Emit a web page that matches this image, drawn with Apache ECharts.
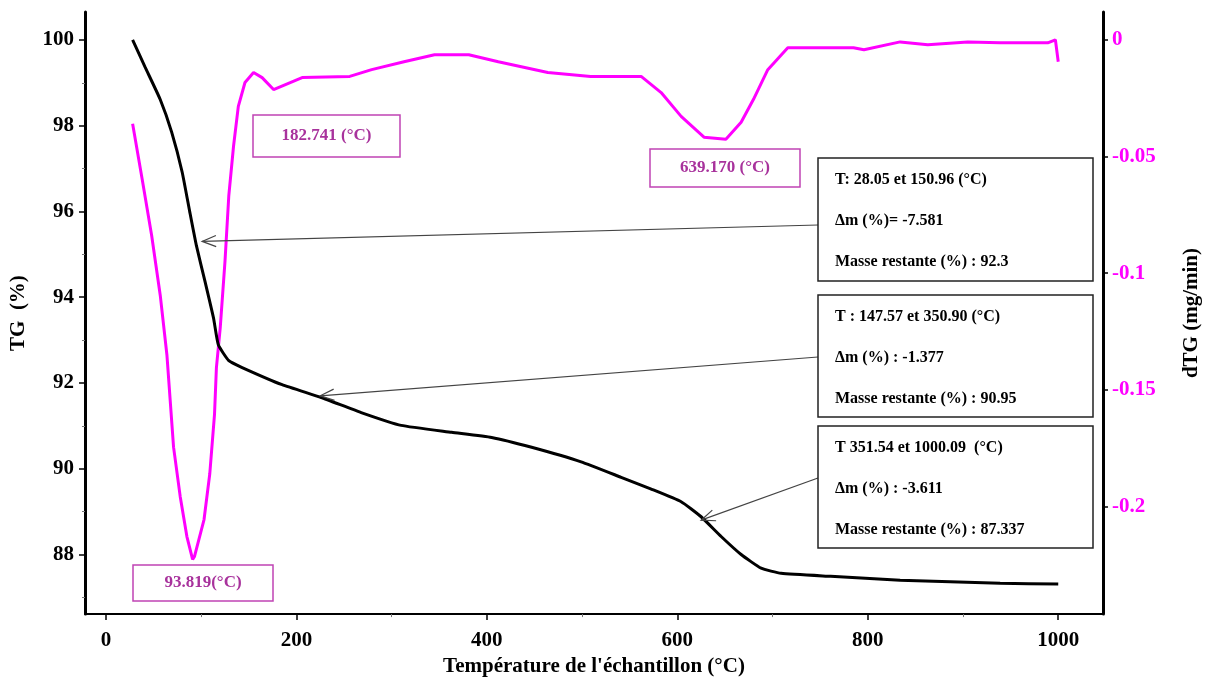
<!DOCTYPE html>
<html>
<head>
<meta charset="utf-8">
<script src="https://cdn.jsdelivr.net/npm/echarts@6/dist/echarts.min.js"></script>
<style>
  html, body { margin: 0; padding: 0; background: #fff; }
  #chart { width: 1210px; height: 682px; }
</style>
</head>
<body>
<div id="chart"></div>
<script>
// TG curve (mass %, left axis)
var tempTG = [28, 41, 57, 69, 80, 88, 95, 104, 113, 118, 129, 143, 185, 226, 268, 310, 363, 405, 447, 499, 541, 572, 604, 625, 646, 667, 688, 709, 761, 834, 939, 1000];
var massTG = [100, 99.37, 98.61, 97.85, 96.92, 95.99, 95.2, 94.37, 93.51, 92.89, 92.52, 92.36, 91.96, 91.66, 91.31, 91.01, 90.85, 90.73, 90.5, 90.16, 89.8, 89.53, 89.23, 88.88, 88.42, 88.0, 87.68, 87.56, 87.49, 87.4, 87.33, 87.31];

// dTG curve (mg/min, right axis)
var tempDTG = [28, 38, 48, 57, 64, 71, 78, 85, 91, 93, 103, 109, 114, 116, 120, 125, 129, 134, 139, 146, 155, 164, 176, 206, 256, 279, 313, 345, 381, 412, 464, 509, 562, 583, 604, 628, 651, 667, 680, 695, 716, 785, 796, 834, 863, 905, 939, 989, 997, 1000];
var dtg = [-0.036, -0.0596, -0.0838, -0.1094, -0.1349, -0.1745, -0.1957, -0.2128, -0.2226, -0.2213, -0.2055, -0.186, -0.1604, -0.1404, -0.1234, -0.0949, -0.0668, -0.0455, -0.0285, -0.0183, -0.014, -0.0162, -0.0213, -0.0162, -0.0157, -0.0128, -0.0094, -0.0064, -0.0064, -0.0094, -0.014, -0.0157, -0.0157, -0.0226, -0.0328, -0.0417, -0.0426, -0.0353, -0.0255, -0.0128, -0.0034, -0.0034, -0.0043, -0.0009, -0.0021, -0.0009, -0.0013, -0.0013, 0, -0.0094];

// tick labels
var xTicks = [0, 200, 400, 600, 800, 1000];
var xMinor = [100, 300, 500, 700, 900];
var tgTicks = [88, 90, 92, 94, 96, 98, 100];
var tgMinor = [87, 89, 91, 93, 95, 97, 99];
var dtgTicks = [0, -0.05, -0.1, -0.15, -0.2];

// peak labels and step summaries
var peakLabels = ['182.741 (°C)', '93.819(°C)', '639.170 (°C)'];
var steps = [
  ['T: 28.05 et 150.96 (°C)', 'Δm (%)= -7.581', 'Masse restante (%) : 92.3'],
  ['T : 147.57 et 350.90 (°C)', 'Δm (%) : -1.377', 'Masse restante (%) : 90.95'],
  ['T 351.54 et 1000.09  (°C)', 'Δm (%) : -3.611', 'Masse restante (%) : 87.337']
];
// points on the TG curve the arrows point at
var arrowTargets = [[101, 95.3], [225, 91.7], [625, 88.8]];

var FONT = 'Liberation Serif';

function zip(a, b) {
  return a.map(function (v, i) { return [v, b[i]]; });
}

var chart = echarts.init(document.getElementById('chart'));

var option = {
  animation: false,
  backgroundColor: '#fff',
  grid: { left: 83, right: 107, top: 12, bottom: 64 },
  xAxis: [
    {
      type: 'value', min: -22, max: 1047, position: 'bottom',
      name: "Température de l'échantillon (°C)",
      nameLocation: 'middle', nameGap: 36,
      nameTextStyle: { fontFamily: FONT, fontWeight: 'bold', fontSize: 21, color: '#000' },
      axisLine: { show: true, onZero: false, lineStyle: { color: '#000', width: 2 } },
      axisTick: { show: true, customValues: xTicks, length: 6, lineStyle: { color: '#000', width: 1.5 } },
      axisLabel: {
        customValues: xTicks, margin: 16, fontFamily: FONT, fontWeight: 'bold', fontSize: 21, color: '#000',
        formatter: function (v) { return String(v); }
      },
      splitLine: { show: false }
    },
    {
      type: 'value', min: -22, max: 1047, position: 'bottom',
      axisLine: { show: false, onZero: false },
      axisTick: { show: true, customValues: xMinor, length: 3, lineStyle: { color: '#777', width: 1 } },
      axisLabel: { show: false },
      splitLine: { show: false }
    }
  ],
  yAxis: [
    {
      type: 'value', min: 86.61, max: 100.65, position: 'left',
      name: 'TG  (%)', nameLocation: 'middle', nameGap: 56,
      nameTextStyle: { fontFamily: FONT, fontWeight: 'bold', fontSize: 21, color: '#000' },
      axisLine: { show: true, onZero: false, lineStyle: { color: '#000', width: 3 } },
      axisTick: { show: true, customValues: tgTicks, length: 6, lineStyle: { color: '#000', width: 1.5 } },
      axisLabel: { customValues: tgTicks, margin: 11, fontFamily: FONT, fontWeight: 'bold', fontSize: 21, color: '#000' },
      splitLine: { show: false }
    },
    {
      type: 'value', min: -0.246, max: 0.0119, position: 'right',
      name: 'dTG (mg/min)', nameLocation: 'middle', nameGap: 78,
      nameTextStyle: { fontFamily: FONT, fontWeight: 'bold', fontSize: 21, color: '#000' },
      axisLine: { show: true, onZero: false, lineStyle: { color: '#000', width: 3 } },
      axisTick: { show: true, customValues: dtgTicks, length: 5, lineStyle: { color: '#000', width: 1.5 } },
      axisLabel: {
        customValues: dtgTicks, margin: 9, fontFamily: FONT, fontWeight: 'bold', fontSize: 21, color: '#ff00ff',
        formatter: function (v) { return String(Math.round(v * 1000) / 1000); }
      },
      splitLine: { show: false }
    },
    {
      type: 'value', min: 86.61, max: 100.65, position: 'left',
      axisLine: { show: false, onZero: false },
      axisTick: { show: true, customValues: tgMinor, length: 3, lineStyle: { color: '#777', width: 1 } },
      axisLabel: { show: false },
      splitLine: { show: false }
    }
  ],
  series: [
    {
      name: 'TG', type: 'line', xAxisIndex: 0, yAxisIndex: 0,
      data: zip(tempTG, massTG), showSymbol: false, smooth: 0.15,
      lineStyle: { color: '#000', width: 3 }, z: 3
    },
    {
      name: 'dTG', type: 'line', xAxisIndex: 0, yAxisIndex: 1,
      data: zip(tempDTG, dtg), showSymbol: false, smooth: false,
      lineStyle: { color: '#ff00ff', width: 3 }, z: 2
    }
  ]
};

chart.setOption(option);

// annotation boxes and arrows
var graphics = [];

function peakBox(x, y, w, h, text) {
  graphics.push({
    type: 'rect', shape: { x: x, y: y, width: w, height: h },
    style: { fill: '#fff', stroke: '#c043b4', lineWidth: 1.5 }, z: 10
  });
  graphics.push({
    type: 'text', x: x + w / 2, y: y + h / 2, z: 11,
    style: { text: text, fill: '#a8329c', font: 'bold 17px "' + FONT + '"', align: 'center', verticalAlign: 'middle' }
  });
}
peakBox(253, 115, 147, 42, peakLabels[0]);
peakBox(133, 565, 140, 36, peakLabels[1]);
peakBox(650, 149, 150, 38, peakLabels[2]);

var boxes = [
  { y: 158, h: 123, ay: 225 },
  { y: 295, h: 122, ay: 357 },
  { y: 426, h: 122, ay: 478 }
];
boxes.forEach(function (b, i) {
  graphics.push({
    type: 'rect', shape: { x: 818, y: b.y, width: 275, height: b.h },
    style: { fill: '#fff', stroke: '#222', lineWidth: 1.5 }, z: 10
  });
  steps[i].forEach(function (line, j) {
    graphics.push({
      type: 'text', x: 835, y: b.y + 22 + j * 41, z: 11,
      style: { text: line, fill: '#000', font: 'bold 16px "' + FONT + '"', align: 'left', verticalAlign: 'middle' }
    });
  });
  var tip = chart.convertToPixel({ xAxisIndex: 0, yAxisIndex: 0 }, arrowTargets[i]);
  var sx = 818, sy = b.ay;
  var dx = sx - tip[0], dy = sy - tip[1];
  var len = Math.sqrt(dx * dx + dy * dy);
  dx /= len; dy /= len;
  var arm = 15, ang = 22 * Math.PI / 180;
  function rot(a) {
    return [tip[0] + arm * (dx * Math.cos(a) - dy * Math.sin(a)), tip[1] + arm * (dx * Math.sin(a) + dy * Math.cos(a))];
  }
  graphics.push({
    type: 'line', shape: { x1: sx, y1: sy, x2: tip[0], y2: tip[1] },
    style: { stroke: '#444', lineWidth: 1.2 }, z: 9
  });
  graphics.push({
    type: 'polyline', shape: { points: [rot(ang), tip, rot(-ang)] },
    style: { stroke: '#444', lineWidth: 1.2, fill: null }, z: 9
  });
});

chart.setOption({ graphic: graphics });
</script>
</body>
</html>
